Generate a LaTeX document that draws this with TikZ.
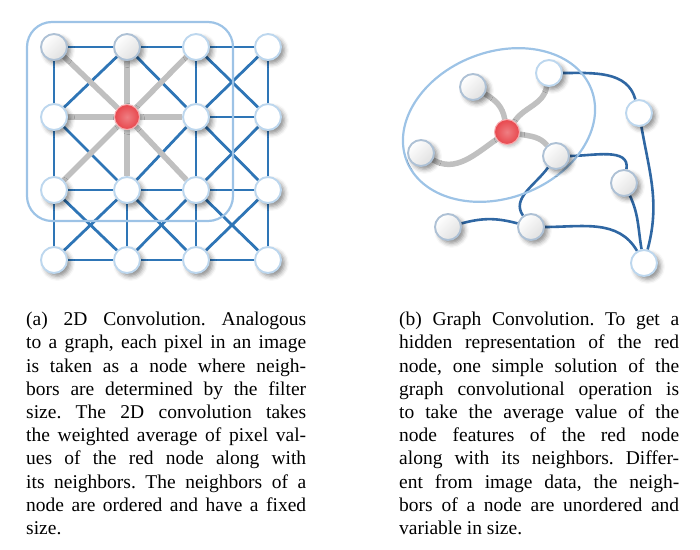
\documentclass[tikz,border=0pt]{standalone}
\usepackage{fontspec}
\setmainfont{Liberation Serif}
\usepackage{tikz}
\usetikzlibrary{backgrounds,shadows.blur}
\definecolor{gridblue}{HTML}{2E75B6}
\definecolor{linkblue}{HTML}{2F67A3}
\definecolor{hoodblue}{HTML}{9DC3E6}
\definecolor{nbgrey}{HTML}{C0C0C0}
\definecolor{rimblue}{HTML}{BDD7EE}
\definecolor{rimgrey}{HTML}{AEC1D5}
\definecolor{centrered}{HTML}{E8474D}

\begin{document}
\begin{tikzpicture}[x=1pt,y=1pt,
  pix/.style={circle,minimum size=26pt,inner sep=0pt,draw=rimblue,line width=1.9pt,fill=white,
    blur shadow={shadow xshift=3.5pt,shadow yshift=-3.5pt,shadow blur radius=4.5pt,shadow opacity=45}},
  pixgrey/.style={pix,draw=rimgrey,top color=white,bottom color=black!12,shading angle=45},
  centre/.style={circle,minimum size=25pt,inner sep=0pt,draw=centrered!45,line width=1pt,
    inner color=centrered!70,outer color=centrered,
    blur shadow={shadow xshift=2pt,shadow yshift=-2pt,shadow blur radius=3pt,shadow opacity=25}},
  gridedge/.style={gridblue,line width=2.8pt},
  nbedge/.style={nbgrey,line width=5.5pt},
  linkedge/.style={linkblue,line width=2.6pt},
  hood/.style={hoodblue,line width=2.2pt},
  caption/.style={anchor=north west,inner sep=0pt,text width=280pt,align=justify,
    font=\fontsize{19.5}{23.2}\selectfont,execute at begin node=\frenchspacing}]
\useasboundingbox (0,0) rectangle (700,549);

% (a) image grid
\foreach \n/\x/\y/\kind in {00/54/502/pixgrey,10/127/502/pixgrey,20/196/502/pix,30/268/502/pix,
    01/54/432/pix,11/127/432/centre,21/196/432/pix,31/268/432/pix,
    02/54/359/pix,12/127/359/pix,22/196/359/pix,32/268/359/pix,
    03/54/289/pix,13/127/289/pix,23/196/289/pix,33/268/289/pix}
  \node[\kind] (p\n) at (\x,\y) {};

% (b) graph
\node[pix] (n1) at (549,476) {};
\node[pixgrey] (n2) at (473,462) {};
\node[centre] (rc) at (507,417) {};
\node[pixgrey] (n3) at (421,396) {};
\node[pixgrey] (n4) at (556,393) {};
\node[pix] (n5) at (639,436) {};
\node[pixgrey] (n6) at (624,366) {};
\node[pixgrey] (n7) at (448,322) {};
\node[pixgrey] (n8) at (531,322) {};
\node[pix] (n9) at (644,286) {};

\begin{scope}[on background layer]
\foreach \a/\b in {00/10,10/20,20/30,21/31,02/12,12/22,22/32,03/13,13/23,23/33,
    00/01,01/02,02/03,12/13,20/21,21/22,22/23,30/31,31/32,32/33,
    10/01,10/21,20/31,30/21,01/12,21/12,21/32,31/22,02/13,12/03,12/23,22/13,22/33,32/23}
  \draw[gridedge] (p\a) -- (p\b);
\foreach \b in {00,10,20,01,21,02,12,22}
  \draw[nbedge] (p11) -- (p\b);
\draw[hood,rounded corners=25pt] (27,328) rectangle (233,527);

\draw[nbedge] (n2) to[out=-30,in=100] (rc);
\draw[nbedge] (rc) to[out=55,in=-100] (n1);
\draw[nbedge] (rc) to[out=-10,in=130] (n4);
\draw[nbedge] (rc) to[out=-145,in=-30] (n3);
\draw[linkedge] (n1) to[out=0,in=105] (n5);
\draw[linkedge] (n5) to[out=-80,in=75] (n9);
\draw[linkedge] (n4) to[out=0,in=80] (n6);
\draw[linkedge] (n6) to[out=-65,in=100] (n9);
\draw[linkedge] (n4) to[out=-125,in=125] (n8);
\draw[linkedge] (n7) to[out=15,in=165] (n8);
\draw[linkedge] (n8) to[out=0,in=120] (n9);
\draw[hood,rotate around={21:(499,424)}] (499,424) ellipse [x radius=99,y radius=73];
\end{scope}

\node[caption] (capa) at (26,237) {(a) 2D Convolution. Analogous\linebreak
to a graph, each pixel in an image\linebreak
is taken as a node where neigh-\linebreak
bors are determined by the filter\linebreak
size. The 2D convolution takes\linebreak
the weighted average of pixel val-\linebreak
ues of the red node along with\linebreak
its neighbors. The neighbors of a\linebreak
node are ordered and have a fixed\linebreak
size.};
\node[caption] (capb) at (399,237) {(b) Graph Convolution. To get a\linebreak
hidden representation of the red\linebreak
node, one simple solution of the\linebreak
graph convolutional operation is\linebreak
to take the average value of the\linebreak
node features of the red node\linebreak
along with its neighbors. Differ-\linebreak
ent from image data, the neigh-\linebreak
bors of a node are unordered and\linebreak
variable in size.};
\end{tikzpicture}
\end{document}
